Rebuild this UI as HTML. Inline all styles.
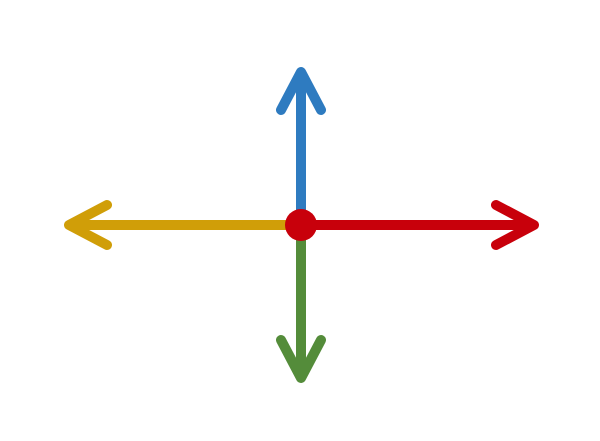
<!DOCTYPE html>
<html><head><style>html,body{margin:0;padding:0;background:#fff;}</style></head>
<body>
<svg width="600" height="436" viewBox="0 0 600 436" xmlns="http://www.w3.org/2000/svg">
<g fill="none" stroke-width="10" stroke-linecap="round" stroke-linejoin="round">
<path d="M301 225 V72 M281 110 L301 72 L321 110" stroke="#2e7bc0"/>
<path d="M301 225 H534 M496 205 L534 225 L496 245" stroke="#c8000b"/>
<path d="M301 225 H69 M107 205 L69 225 L107 245" stroke="#d09e08"/>
<path d="M301 225 V378 M281 340 L301 378 L321 340" stroke="#548c3a"/>
</g>
<circle cx="301" cy="225" r="16" fill="#c8000b"/>
</svg>
</body></html>
